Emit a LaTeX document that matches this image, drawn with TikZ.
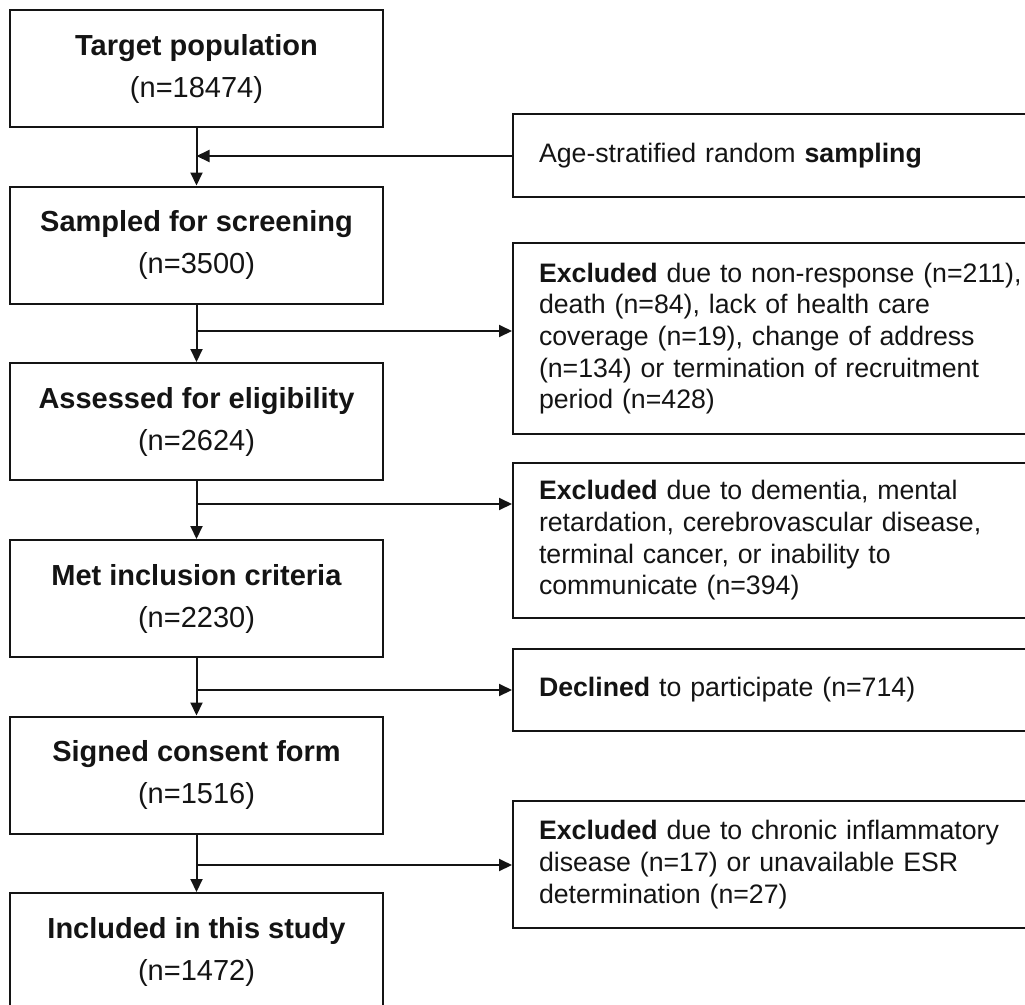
\documentclass[tikz,border=0pt]{standalone}
\usepackage{fontspec}
\setmainfont{Liberation Sans}
\usetikzlibrary{arrows.meta,calc}
\definecolor{ink}{RGB}{20,20,20}

\begin{document}
\begin{tikzpicture}[x=1pt, y=-1pt,
  stage/.style={draw=ink, line width=2pt, minimum width=373pt, minimum height=117pt,
    inner sep=0pt, align=center, text=ink, font=\fontsize{29}{42}\selectfont},
  side/.style={draw=ink, line width=2pt, anchor=west, text width=500pt, inner xsep=26pt,
    inner ysep=0pt, align=left, text=ink, font=\fontsize{26.7}{31.7}\selectfont},
  flow/.style={draw=ink, line width=2pt, -{Triangle[length=13pt,width=12pt]}}]
\useasboundingbox (0,0) rectangle (1025,1004);
% main stages
\node[stage] (t1) at (196.5,68.5)  {\textbf{Target population}\\(n=18474)};
\node[stage] (t2) at (196.5,245)   {\textbf{Sampled for screening}\\(n=3500)};
\node[stage] (t3) at (196.5,421.5) {\textbf{Assessed for eligibility}\\(n=2624)};
\node[stage] (t4) at (196.5,598.5) {\textbf{Met inclusion criteria}\\(n=2230)};
\node[stage] (t5) at (196.5,775)   {\textbf{Signed consent form}\\(n=1516)};
\node[stage] (t6) at (196.5,951.5) {\textbf{Included in this study}\\(n=1472)};
\foreach \a/\b in {t1/t2,t2/t3,t3/t4,t4/t5,t5/t6} {
  \draw[flow] (\a) -- (\b);
}
% side boxes
\node[side, minimum height=83pt]  (samp) at (512,155.5) {Age-stratified random \textbf{sampling}};
\node[side, minimum height=191pt] (ex1)  at (512,338.5) {\textbf{Excluded} due to non-response (n=211),\\
  death (n=84), lack of health care\\ coverage (n=19), change of address\\
  (n=134) or termination of recruitment\\ period (n=428)};
\node[side, minimum height=155pt] (ex2)  at (512,540.5) {\textbf{Excluded} due to dementia, mental\\
  retardation, cerebrovascular disease,\\ terminal cancer, or inability to\\ communicate (n=394)};
\node[side, minimum height=82pt]  (dec)  at (512,690)   {\textbf{Declined} to participate (n=714)};
\node[side, minimum height=127pt] (ex3)  at (512,864.5) {\textbf{Excluded} due to chronic inflammatory\\
  disease (n=17) or unavailable ESR\\ determination (n=27)};
% branch points on the main line
\coordinate (j1) at (196.5,156);
\coordinate (j2) at (196.5,331);
\coordinate (j3) at (196.5,504);
\coordinate (j4) at (196.5,690);
\coordinate (j5) at (196.5,865);
\draw[flow] (j1 -| samp.west) -- (j1);
\draw[flow] (j2) -- (j2 -| ex1.west);
\draw[flow] (j3) -- (j3 -| ex2.west);
\draw[flow] (j4) -- (j4 -| dec.west);
\draw[flow] (j5) -- (j5 -| ex3.west);
\end{tikzpicture}
\end{document}
